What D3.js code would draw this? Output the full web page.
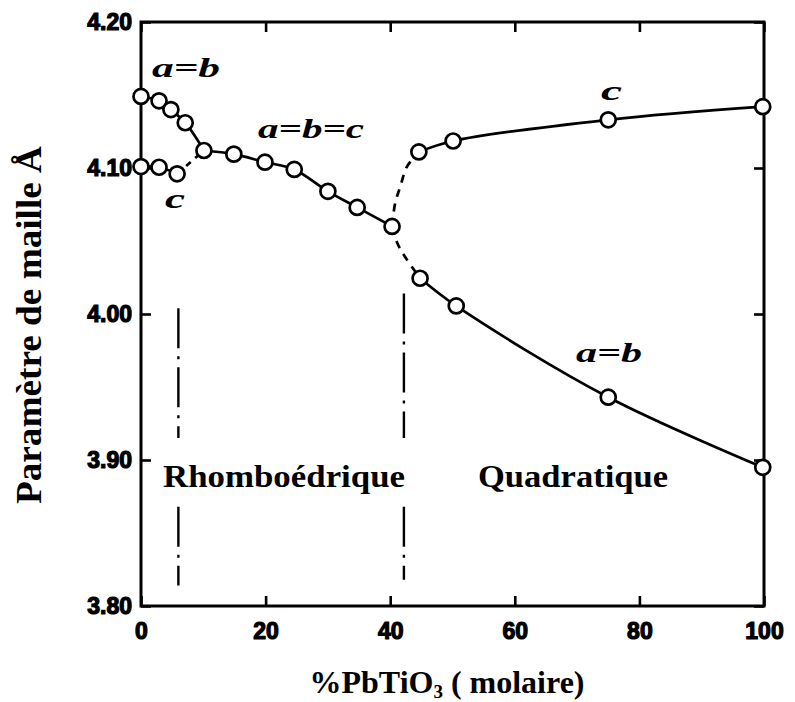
<!DOCTYPE html>
<html>
<head>
<meta charset="utf-8">
<script src="https://cdn.jsdelivr.net/npm/d3@7/dist/d3.min.js"></script>
<style>
  html, body { margin: 0; padding: 0; background: #fff; }
  svg { display: block; }
</style>
</head>
<body>
<svg id="chart" width="795" height="702"></svg>
<script>
// Lattice parameters of PZN–PbTiO3 (Å) versus PbTiO3 molar fraction

// rhombohedral side, low PbTiO3: a=b branch and c branch
const lowAx = [0, 2.9, 4.8, 7.1];
const lowAy = [4.149, 4.146, 4.140, 4.131];
const lowCx = [0, 2.9, 5.8];
const lowCy = [4.101, 4.1005, 4.096];

// a=b=c branch
const cubX = [10.1, 14.9, 19.9, 24.6, 30.0, 34.7, 40.3];
const cubY = [4.112, 4.1095, 4.104, 4.099, 4.084, 4.073, 4.060];

// tetragonal side: c and a=b
const tetCx = [44.6, 50.1, 75, 99.8];
const tetCy = [4.111, 4.1185, 4.133, 4.142];
const tetAx = [44.8, 50.6, 75, 99.8];
const tetAy = [4.0245, 4.0055, 3.943, 3.895];

// dashed transition curves from the a=b=c branch to the tetragonal branches
const transUpX = [40.3, 40.8, 41.6, 42.7, 44.6];
const transUpY = [4.060, 4.076, 4.087, 4.101, 4.111];
const transDnX = [40.3, 41.1, 42.4, 44.8];
const transDnY = [4.060, 4.049, 4.039, 4.0245];

// phase boundaries (dash-dot verticals), each as [yTop, yBottom] pieces
const boundX = [6, 42.2];
const boundPieces = [
  [[4.004, 3.915], [3.868, 3.814]],
  [[4.014, 3.915], [3.868, 3.818]]
];

const xTicks = [0, 20, 40, 60, 80, 100];
const yTicks = [3.80, 3.90, 4.00, 4.10, 4.20];

const zip = (xs, ys) => xs.map((x, i) => [x, ys[i]]);

const W = 795, H = 702;
const m = { left: 141, right: 31, top: 22, bottom: 96 };
const iw = W - m.left - m.right, ih = H - m.top - m.bottom;

const svg = d3.select("#chart");
const g = svg.append("g").attr("transform", `translate(${m.left},${m.top})`);

const x = d3.scaleLinear().domain([0, 100]).range([0, iw]);
const y = d3.scaleLinear().domain([3.80, 4.20]).range([ih, 0]);

const tickFont = "'Liberation Sans', Arial, sans-serif";
const serif = "'Liberation Serif', 'Times New Roman', serif";

// axes with inward ticks
function styleAxis(sel, labels) {
  sel.select(".domain").remove();
  sel.selectAll(".tick line").attr("stroke", "#000").attr("stroke-width", 2.6);
  sel.selectAll(".tick text")
    .attr("fill", "#000")
    .style("font-family", tickFont)
    .style("font-weight", "bold")
    .style("font-size", "23px")
    .attr("stroke", "#000").attr("stroke-width", labels ? 1.2 : 0);
}

g.append("g").attr("transform", `translate(0,${ih})`)
  .call(d3.axisBottom(x).tickValues(xTicks).tickFormat(d3.format("d"))
    .tickSizeInner(-10).tickSizeOuter(0).tickPadding(17))
  .call(s => styleAxis(s, true));
g.append("g")
  .call(d3.axisTop(x).tickValues(xTicks).tickFormat("")
    .tickSizeInner(-10).tickSizeOuter(0))
  .call(s => styleAxis(s, false));
g.append("g")
  .call(d3.axisLeft(y).tickValues(yTicks).tickFormat(d3.format(".2f"))
    .tickSizeInner(-10).tickSizeOuter(0).tickPadding(9))
  .call(s => styleAxis(s, true));
g.append("g").attr("transform", `translate(${iw},0)`)
  .call(d3.axisRight(y).tickValues(yTicks).tickFormat("")
    .tickSizeInner(-10).tickSizeOuter(0))
  .call(s => styleAxis(s, false));

g.append("rect").attr("x", 0).attr("y", 0).attr("width", iw).attr("height", ih)
  .attr("fill", "none").attr("stroke", "#000").attr("stroke-width", 3);

// phase boundaries
boundX.forEach((bx, i) => {
  boundPieces[i].forEach(([y0, y1]) => {
    g.append("line")
      .attr("x1", x(bx)).attr("x2", x(bx))
      .attr("y1", y(y0)).attr("y2", y(y1))
      .attr("stroke", "#000").attr("stroke-width", 2.4)
      .attr("stroke-dasharray", "40,8,3,8");
  });
});

// curves
const line = d3.line().x(d => x(d[0])).y(d => y(d[1])).curve(d3.curveCatmullRom.alpha(0.5));
const curves = g.append("g").attr("fill", "none").attr("stroke", "#000").attr("stroke-width", 2.7);

curves.append("path").attr("d", line(zip(lowAx, lowAy).concat([[cubX[0], cubY[0]]])));
curves.append("path").attr("d", line(zip(lowCx, lowCy)));
curves.append("path").attr("d", line([[lowCx[2], lowCy[2]], [cubX[0], cubY[0]]]))
  .attr("stroke-dasharray", "6,6");
curves.append("path").attr("d", line(zip(cubX, cubY)));
curves.append("path").attr("d", line(zip(tetCx, tetCy)));
curves.append("path").attr("d", line(zip(tetAx, tetAy)));
curves.append("path").attr("d", line(zip(transUpX, transUpY))).attr("stroke-dasharray", "8,7");
curves.append("path").attr("d", line(zip(transDnX, transDnY))).attr("stroke-dasharray", "8,7");

// markers
const allPts = [].concat(
  zip(lowAx, lowAy), zip(lowCx, lowCy), zip(cubX, cubY), zip(tetCx, tetCy), zip(tetAx, tetAy)
);
g.append("g").selectAll("circle").data(allPts).join("circle")
  .attr("cx", d => x(d[0])).attr("cy", d => y(d[1])).attr("r", 7.5)
  .attr("fill", "#fff").attr("stroke", "#000").attr("stroke-width", 2.7);

// branch labels
const branchLabels = [
  { t: "a=b", x: 152, y: 77, len: 68 },
  { t: "c", x: 165, y: 208, len: 20 },
  { t: "a=b=c", x: 258, y: 138, len: 106 },
  { t: "c", x: 601, y: 100, len: 21 },
  { t: "a=b", x: 576, y: 362, len: 66 }
];
svg.append("g").selectAll("text").data(branchLabels).join("text")
  .attr("x", d => d.x).attr("y", d => d.y)
  .attr("textLength", d => d.len).attr("lengthAdjust", "spacingAndGlyphs")
  .style("font-family", serif).style("font-style", "italic").style("font-weight", "bold")
  .style("font-size", "27px").attr("fill", "#000")
  .text(d => d.t);

// phase names
const phaseLabels = [
  { t: "Rhomboédrique", x: 163, len: 242 },
  { t: "Quadratique", x: 478, len: 190 }
];
svg.append("g").selectAll("text").data(phaseLabels).join("text")
  .attr("x", d => d.x).attr("y", 487)
  .attr("textLength", d => d.len).attr("lengthAdjust", "spacingAndGlyphs")
  .style("font-family", serif).style("font-weight", "bold").style("font-size", "32px")
  .attr("fill", "#000").attr("stroke", "#fff").attr("stroke-width", 6)
  .attr("paint-order", "stroke")
  .text(d => d.t);

// axis titles
const xt = svg.append("text")
  .attr("x", 447).attr("y", 693).attr("text-anchor", "middle")
  .style("font-family", serif).style("font-weight", "bold").style("font-size", "32px")
  .attr("fill", "#000");
xt.append("tspan").text("%PbTiO");
xt.append("tspan").text("3").attr("dy", 5).style("font-size", "19px");
xt.append("tspan").text(" ( molaire)").attr("dy", -5);

svg.append("text")
  .attr("transform", "translate(41,325) rotate(-90)")
  .attr("text-anchor", "middle")
  .attr("textLength", 358).attr("lengthAdjust", "spacingAndGlyphs")
  .style("font-family", serif).style("font-weight", "bold").style("font-size", "35px")
  .attr("fill", "#000")
  .text("Paramètre de maille Å");
</script>
</body>
</html>
